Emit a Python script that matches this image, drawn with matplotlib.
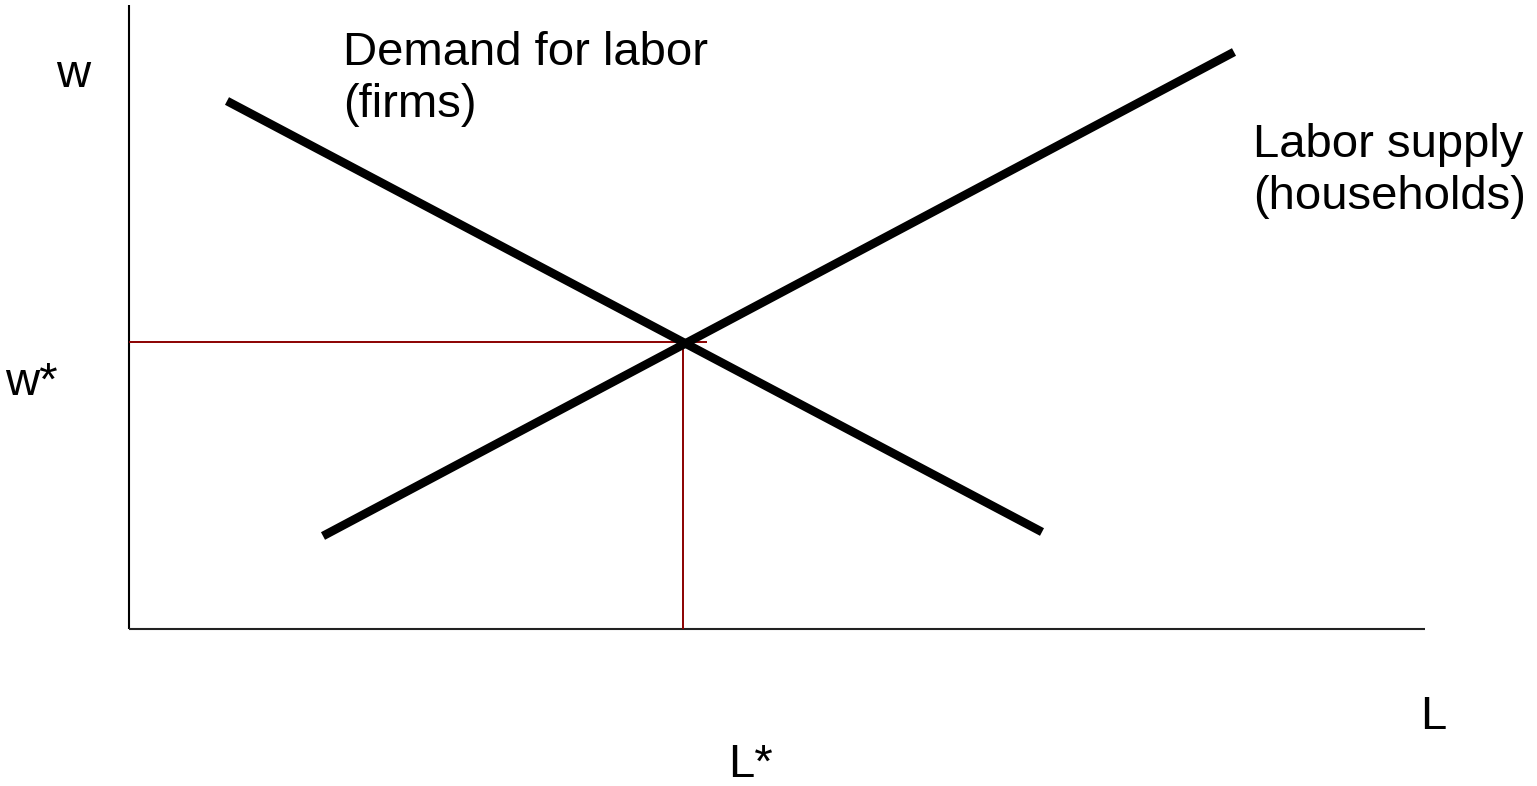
import matplotlib
matplotlib.use("Agg")
import matplotlib.pyplot as plt

# Diagram coordinates (units: pixels from the axis origin)
axis_x = [0, 1296]
axis_y = [0, 624]

demand_x = [98, 913]
demand_y = [528, 97]

supply_x = [194, 1105]
supply_y = [93, 577]

eq_L = 554
eq_w = 287
wstar_line_end = 578

labels = {
    "w": (-73, 542),
    "w*": (-124, 234),
    "L": (1291, -100),
    "L*": (599, -148),
}
demand_label = ["Demand for labor", "(firms)"]
demand_label_pos = (214, 564)
supply_label = ["Labor supply", "(households)"]
supply_label_pos = (1124, 472)
line_gap = 52

plt.rcParams['font.family'] = ['Liberation Sans', 'DejaVu Sans']

fig = plt.figure(figsize=(15.37, 7.86), dpi=100)
ax = fig.add_axes([0, 0, 1, 1])
ax.set_xlim(-129, 1537 - 129)
ax.set_ylim(-(786 - 629), 629)
ax.axis('off')

# axes
ax.plot([0, 0], axis_y, color='black', lw=1.5, solid_capstyle='butt')
ax.plot(axis_x, [0, 0], color='#222222', lw=1.5, solid_capstyle='butt')

# equilibrium guide lines
red = '#8b0000'
ax.plot([0, wstar_line_end], [eq_w, eq_w], color=red, lw=1.4, solid_capstyle='butt')
ax.plot([eq_L, eq_L], [0, eq_w], color=red, lw=1.4, solid_capstyle='butt')

# curves
ax.plot(demand_x, demand_y, color='black', lw=6.2, solid_capstyle='butt')
ax.plot(supply_x, supply_y, color='black', lw=6.2, solid_capstyle='butt')

fs = 34
for txt, (x, y) in labels.items():
    ax.text(x, y, txt, fontsize=fs, ha='left', va='baseline')

for i, line in enumerate(demand_label):
    ax.text(demand_label_pos[0], demand_label_pos[1] - i * line_gap, line,
            fontsize=fs, ha='left', va='baseline')
for i, line in enumerate(supply_label):
    ax.text(supply_label_pos[0], supply_label_pos[1] - i * line_gap, line,
            fontsize=fs, ha='left', va='baseline', clip_on=False)

fig.savefig('out.png', dpi=100)
